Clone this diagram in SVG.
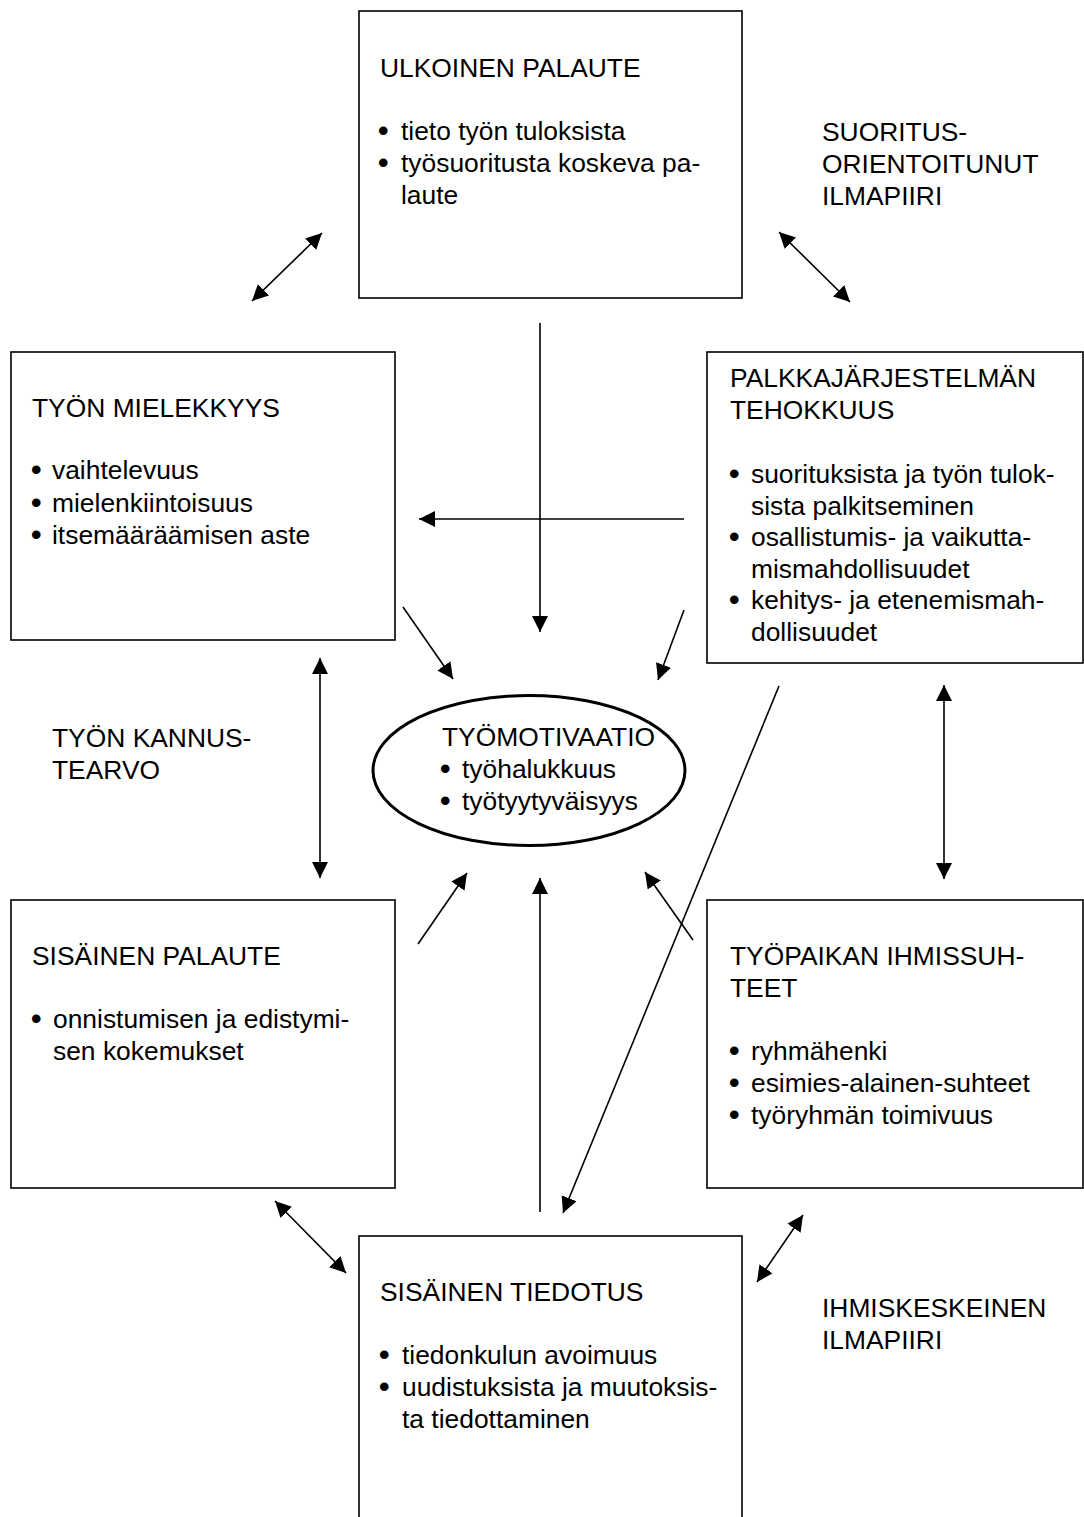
<svg xmlns="http://www.w3.org/2000/svg" width="1084" height="1517" viewBox="0 0 1084 1517">
<defs>
<style>
text{font-family:"Liberation Sans",Arial,sans-serif;font-size:26.4px;fill:#000}
.b{font-size:30px;font-weight:bold}
.box{fill:#fff;stroke:#000;stroke-width:1.6}
.ell{fill:#fff;stroke:#000;stroke-width:3}
.c{stroke:#000;stroke-width:1.6;fill:none}
.a{marker-end:url(#ah)}
.d{marker-start:url(#ah);marker-end:url(#ah)}
</style>
<marker id="ah" markerUnits="userSpaceOnUse" markerWidth="17" markerHeight="17" refX="16" refY="8" orient="auto-start-reverse" viewBox="0 0 17 17">
<path d="M0,0 L16,8 L0,16 z" fill="#000"/>
</marker>
</defs>
<rect width="1084" height="1517" fill="#fff"/>

<g id="connectors">
<line class="c d" x1="252" y1="301" x2="322" y2="233"/>
<line class="c d" x1="779" y1="232" x2="850" y2="302"/>
<line class="c a" x1="540" y1="323" x2="540" y2="632"/>
<line class="c a" x1="684" y1="519" x2="419" y2="519"/>
<line class="c a" x1="403" y1="607" x2="453" y2="679"/>
<line class="c a" x1="684" y1="610" x2="658" y2="680"/>
<line class="c a" x1="779" y1="686" x2="563" y2="1213"/>
<line class="c d" x1="320" y1="658" x2="320" y2="878"/>
<line class="c d" x1="944" y1="685" x2="944" y2="879"/>
<line class="c a" x1="418" y1="944" x2="467" y2="873"/>
<line class="c a" x1="540" y1="1212" x2="540" y2="878"/>
<line class="c a" x1="693" y1="940" x2="645" y2="872"/>
<line class="c d" x1="275" y1="1201" x2="346" y2="1273"/>
<line class="c d" x1="757" y1="1282" x2="803" y2="1215"/>
</g>

<g id="ulkoinen-palaute">
<rect class="box" x="359" y="11" width="383" height="287"/>
<text x="380" y="77">ULKOINEN PALAUTE</text>
<text x="378" y="141"><tspan class="b">•</tspan><tspan x="401" y="140">tieto työn tuloksista</tspan></text>
<text x="378" y="173"><tspan class="b">•</tspan><tspan x="401" y="172">työsuoritusta koskeva pa-</tspan></text>
<text x="401" y="204">laute</text>
</g>

<g id="tyon-mielekkyys">
<rect class="box" x="11" y="352" width="384" height="288"/>
<text x="32" y="417">TYÖN MIELEKKYYS</text>
<text x="31" y="480"><tspan class="b">•</tspan><tspan x="52" y="479">vaihtelevuus</tspan></text>
<text x="31" y="512.5"><tspan class="b">•</tspan><tspan x="52" y="511.5">mielenkiintoisuus</tspan></text>
<text x="31" y="545"><tspan class="b">•</tspan><tspan x="52" y="544">itsemääräämisen aste</tspan></text>
</g>

<g id="palkkajarjestelma">
<rect class="box" x="707" y="352" width="376" height="311"/>
<text x="730" y="387">PALKKAJÄRJESTELMÄN</text>
<text x="730" y="419">TEHOKKUUS</text>
<text x="729" y="484"><tspan class="b">•</tspan><tspan x="751" y="483">suorituksista ja työn tulok-</tspan></text>
<text x="751" y="514.5">sista palkitseminen</text>
<text x="729" y="547"><tspan class="b">•</tspan><tspan x="751" y="546">osallistumis- ja vaikutta-</tspan></text>
<text x="751" y="577.5">mismahdollisuudet</text>
<text x="729" y="610"><tspan class="b">•</tspan><tspan x="751" y="609">kehitys- ja etenemismah-</tspan></text>
<text x="751" y="640.5">dollisuudet</text>
</g>

<g id="tyomotivaatio">
<ellipse class="ell" cx="529" cy="770.5" rx="156" ry="75"/>
<text x="442" y="746">TYÖMOTIVAATIO</text>
<text x="440" y="779"><tspan class="b">•</tspan><tspan x="462" y="778">työhalukkuus</tspan></text>
<text x="440" y="811"><tspan class="b">•</tspan><tspan x="462" y="810">työtyytyväisyys</tspan></text>
</g>

<g id="sisainen-palaute">
<rect class="box" x="11" y="900" width="384" height="288"/>
<text x="32" y="965">SISÄINEN PALAUTE</text>
<text x="31" y="1029"><tspan class="b">•</tspan><tspan x="53" y="1028">onnistumisen ja edistymi-</tspan></text>
<text x="53" y="1060">sen kokemukset</text>
</g>

<g id="tyopaikan-ihmissuhteet">
<rect class="box" x="707" y="900" width="376" height="288"/>
<text x="730" y="965">TYÖPAIKAN IHMISSUH-</text>
<text x="730" y="997">TEET</text>
<text x="729" y="1061"><tspan class="b">•</tspan><tspan x="751" y="1060">ryhmähenki</tspan></text>
<text x="729" y="1093"><tspan class="b">•</tspan><tspan x="751" y="1092">esimies-alainen-suhteet</tspan></text>
<text x="729" y="1125"><tspan class="b">•</tspan><tspan x="751" y="1124">työryhmän toimivuus</tspan></text>
</g>

<g id="sisainen-tiedotus">
<rect class="box" x="359" y="1236" width="383" height="320"/>
<text x="380" y="1301">SISÄINEN TIEDOTUS</text>
<text x="379" y="1365"><tspan class="b">•</tspan><tspan x="402" y="1364">tiedonkulun avoimuus</tspan></text>
<text x="379" y="1397"><tspan class="b">•</tspan><tspan x="402" y="1396">uudistuksista ja muutoksis-</tspan></text>
<text x="402" y="1428">ta tiedottaminen</text>
</g>

<g id="labels">
<text x="822" y="141">SUORITUS-</text>
<text x="822" y="173">ORIENTOITUNUT</text>
<text x="822" y="205">ILMAPIIRI</text>
<text x="52" y="747">TYÖN KANNUS-</text>
<text x="52" y="779">TEARVO</text>
<text x="822" y="1317">IHMISKESKEINEN</text>
<text x="822" y="1349">ILMAPIIRI</text>
</g>
</svg>
